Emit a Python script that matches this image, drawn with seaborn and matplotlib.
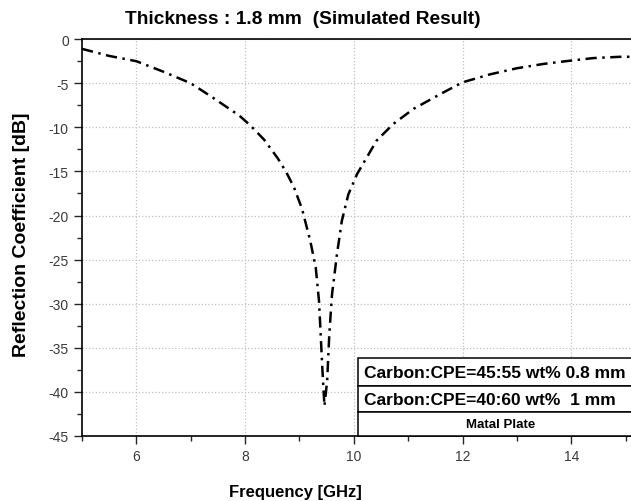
import numpy as np
import pandas as pd
import seaborn as sns
import matplotlib.pyplot as plt
from matplotlib.patches import Rectangle
from matplotlib.ticker import MultipleLocator

# Simulated reflection coefficient
freq = [5.0, 5.5, 6.0, 6.5, 7.0, 7.4, 7.9, 8.1, 8.35, 8.6, 8.75, 8.9, 9.05,
        9.2, 9.3, 9.36, 9.39, 9.42, 9.46, 9.51, 9.55, 9.6, 9.69, 9.78, 9.9,
        10.06, 10.24, 10.42, 10.73, 11.1, 11.6, 12.0, 12.5, 13.0, 13.5,
        13.9, 14.4, 14.9, 15.1]
refl_db = [-1.1, -1.9, -2.5, -3.7, -5.0, -6.6, -8.7, -9.8, -11.4, -13.5,
           -15.0, -16.8, -19.3, -22.9, -25.9, -29.7, -33.4, -37.2, -41.6,
           -38.7, -33.4, -28.9, -24.4, -20.6, -17.6, -15.3, -13.4, -11.5,
           -9.6, -7.9, -6.2, -4.9, -4.0, -3.3, -2.8, -2.5, -2.15, -2.0, -2.0]

legend_rows = ["Carbon:CPE=45:55 wt% 0.8 mm", "Carbon:CPE=40:60 wt%  1 mm",
               "Matal Plate"]

df = pd.DataFrame({"freq": freq, "db": refl_db})

sns.set_style("white")
plt.rcParams['font.family'] = ['Liberation Sans', 'DejaVu Sans']
plt.rcParams['axes.unicode_minus'] = False
plt.rcParams['text.color'] = 'black'
plt.rcParams['axes.labelcolor'] = 'black'

fig = plt.figure(figsize=(6.31, 5.02), dpi=100)
ax = fig.add_axes([0.130, 0.1295, 0.870, 0.7905])

sns.lineplot(data=df, x="freq", y="db", ax=ax, color="black", linewidth=1.8,
             sort=False, estimator=None)
ax.lines[0].set_dashes((4.5, 2.2, 1.0, 2.2))

ax.set_xlim(5, 15.1)
ax.set_ylim(-45, 0)
ax.xaxis.set_major_locator(MultipleLocator(2))
ax.xaxis.set_minor_locator(MultipleLocator(1))
ax.yaxis.set_major_locator(MultipleLocator(5))
ax.yaxis.set_minor_locator(MultipleLocator(2.5))
ax.tick_params(which="major", direction="out", length=6, width=1,
               labelsize=10, labelcolor="#3a3a3a", left=True, bottom=True)
ax.tick_params(which="minor", direction="out", length=3.5, width=1,
               left=True, bottom=True)
ax.grid(True, which="major", linestyle=":", color="#c0c0c0", linewidth=0.9)

for side in ["left", "bottom", "top"]:
    ax.spines[side].set_color("black")
    ax.spines[side].set_linewidth(1.2)
ax.spines["right"].set_visible(False)

ax.set_xlabel("Frequency [GHz]", fontsize=12, fontweight="bold")
ax.set_ylabel("Reflection Coefficient [dB]", fontsize=14, fontweight="bold")
ax.xaxis.set_label_coords(0.388, -0.12)
ax.yaxis.set_label_coords(-0.094, 0.51)

fig.text(0.48, 0.962, "Thickness : 1.8 mm  (Simulated Result)",
         ha="center", va="center", fontsize=13.8, fontweight="bold")

# table-like legend box
x0, x1 = 0.503, 1.05
row_edges = [0.196, 0.126, 0.060, 0.0]
for i, label in enumerate(legend_rows):
    top, bot = row_edges[i], row_edges[i + 1]
    ax.add_patch(Rectangle((x0, bot), x1 - x0, top - bot, transform=ax.transAxes,
                           facecolor="white", edgecolor="black", linewidth=1.1,
                           clip_on=False, zorder=5))
    if i < 2:
        ax.text(x0 + 0.011, (top + bot) / 2, label, transform=ax.transAxes,
                ha="left", va="center", fontsize=12.5, fontweight="bold", zorder=6)
    else:
        ax.text(0.762, (top + bot) / 2, label, transform=ax.transAxes,
                ha="center", va="center", fontsize=9.5, fontweight="bold", zorder=6)

fig.savefig("out.png", dpi=100)
